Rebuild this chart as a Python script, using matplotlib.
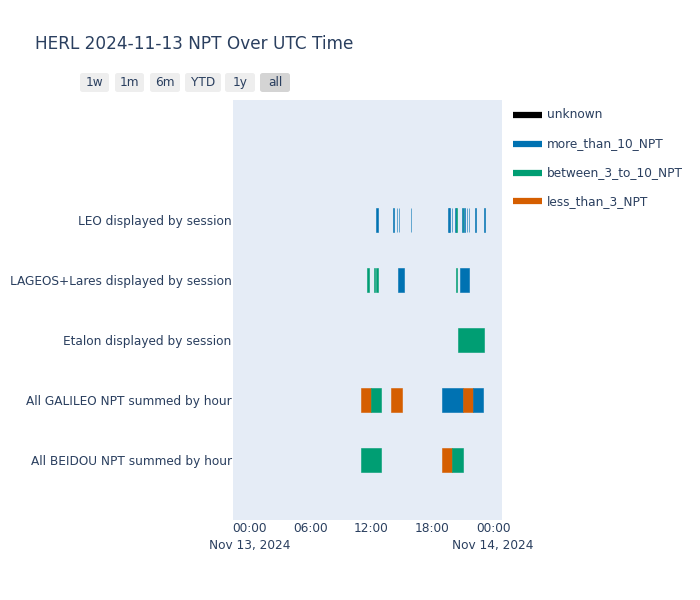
import matplotlib
matplotlib.use("Agg")
import matplotlib.pyplot as plt
import matplotlib.dates as mdates
from matplotlib.lines import Line2D
from matplotlib.patches import FancyBboxPatch
import pandas as pd

# ---------------- data ----------------
categories = [
    "All BEIDOU NPT summed by hour",
    "All GALILEO NPT summed by hour",
    "Etalon displayed by session",
    "LAGEOS+Lares displayed by session",
    "LEO displayed by session",
]
statuses = ["unknown", "more_than_10_NPT", "between_3_to_10_NPT", "less_than_3_NPT"]
status_colors = ["#000000", "#0072B2", "#009E73", "#D55E00"]

seg_row = (
    ["LEO displayed by session"] * 17
    + ["LAGEOS+Lares displayed by session"] * 6
    + ["Etalon displayed by session"] * 1
    + ["All GALILEO NPT summed by hour"] * 6
    + ["All BEIDOU NPT summed by hour"] * 3
)
seg_start = [
    # LEO
    "2024-11-13 12:29", "2024-11-13 14:09", "2024-11-13 14:32", "2024-11-13 14:44",
    "2024-11-13 15:55", "2024-11-13 19:33", "2024-11-13 19:41", "2024-11-13 19:57",
    "2024-11-13 20:15", "2024-11-13 20:23", "2024-11-13 20:57", "2024-11-13 21:02",
    "2024-11-13 21:06", "2024-11-13 21:25", "2024-11-13 21:37", "2024-11-13 22:13",
    "2024-11-13 23:06",
    # LAGEOS
    "2024-11-13 11:36", "2024-11-13 12:17", "2024-11-13 12:29", "2024-11-13 14:39",
    "2024-11-13 20:21", "2024-11-13 20:45",
    # Etalon
    "2024-11-13 20:33",
    # GALILEO
    "2024-11-13 11:00", "2024-11-13 12:00", "2024-11-13 14:00", "2024-11-13 19:00",
    "2024-11-13 21:00", "2024-11-13 22:00",
    # BEIDOU
    "2024-11-13 11:00", "2024-11-13 19:00", "2024-11-13 20:00",
]
seg_end = [
    # LEO
    "2024-11-13 12:40", "2024-11-13 14:13", "2024-11-13 14:35", "2024-11-13 14:47",
    "2024-11-13 15:58", "2024-11-13 19:38", "2024-11-13 19:44", "2024-11-13 20:00",
    "2024-11-13 20:19", "2024-11-13 20:27", "2024-11-13 21:01", "2024-11-13 21:05",
    "2024-11-13 21:13", "2024-11-13 21:29", "2024-11-13 21:40", "2024-11-13 22:20",
    "2024-11-13 23:12",
    # LAGEOS
    "2024-11-13 11:47", "2024-11-13 12:23", "2024-11-13 12:41", "2024-11-13 15:14",
    "2024-11-13 20:27", "2024-11-13 21:38",
    # Etalon
    "2024-11-13 23:06",
    # GALILEO
    "2024-11-13 12:00", "2024-11-13 13:00", "2024-11-13 15:00", "2024-11-13 21:00",
    "2024-11-13 22:00", "2024-11-13 23:00",
    # BEIDOU
    "2024-11-13 13:00", "2024-11-13 20:00", "2024-11-13 21:00",
]
seg_status = [
    # LEO
    "more_than_10_NPT", "more_than_10_NPT", "more_than_10_NPT", "more_than_10_NPT",
    "more_than_10_NPT", "more_than_10_NPT", "more_than_10_NPT", "more_than_10_NPT",
    "more_than_10_NPT", "between_3_to_10_NPT", "more_than_10_NPT", "between_3_to_10_NPT",
    "more_than_10_NPT", "more_than_10_NPT", "more_than_10_NPT", "more_than_10_NPT",
    "more_than_10_NPT",
    # LAGEOS
    "between_3_to_10_NPT", "between_3_to_10_NPT", "between_3_to_10_NPT", "more_than_10_NPT",
    "between_3_to_10_NPT", "more_than_10_NPT",
    # Etalon
    "between_3_to_10_NPT",
    # GALILEO
    "less_than_3_NPT", "between_3_to_10_NPT", "less_than_3_NPT", "more_than_10_NPT",
    "less_than_3_NPT", "more_than_10_NPT",
    # BEIDOU
    "between_3_to_10_NPT", "less_than_3_NPT", "between_3_to_10_NPT",
]

x_range = ["2024-11-12 22:24", "2024-11-14 00:53"]
x_ticks = ["2024-11-13 00:00", "2024-11-13 06:00", "2024-11-13 12:00",
           "2024-11-13 18:00", "2024-11-14 00:00"]
x_ticklabels = ["00:00\nNov 13, 2024", "06:00", "12:00", "18:00", "00:00\nNov 14, 2024"]
buttons = ["1w", "1m", "6m", "YTD", "1y", "all"]

# ---------------- plot ----------------
TXT = "#2a3f5f"
FS = 8.7
plt.rcParams["font.family"] = ["DejaVu Sans"]
fig = plt.figure(figsize=(7, 6), dpi=100)
fig.patch.set_facecolor("white")
ax = fig.add_axes([233 / 700, 1 - 520 / 600, (502 - 233) / 700, 420 / 600])
ax.set_facecolor("#E5ECF6")

cmap = dict(zip(statuses, status_colors))
ypos = {c: i for i, c in enumerate(categories)}
starts = mdates.date2num(pd.to_datetime(seg_start))
ends = mdates.date2num(pd.to_datetime(seg_end))
for r, s, e, st in zip(seg_row, starts, ends, seg_status):
    ax.barh(ypos[r], e - s, left=s, height=0.4, color=cmap[st],
            edgecolor=cmap[st], linewidth=0.4)

ax.set_ylim(-1, 6)
ax.set_yticks(range(len(categories)))
ax.set_yticklabels(categories)
xr = mdates.date2num(pd.to_datetime(x_range))
ax.set_xlim(xr[0], xr[1])
ax.set_xticks(mdates.date2num(pd.to_datetime(x_ticks)))
ax.set_xticklabels(x_ticklabels, linespacing=1.35)
for sp in ax.spines.values():
    sp.set_visible(False)
ax.tick_params(axis="both", length=0, labelsize=FS, colors=TXT)
ax.tick_params(axis="y", pad=1)
ax.tick_params(axis="x", pad=1.5)

fig.text(35 / 700, 1 - 44 / 600, "HERL 2024-11-13 NPT Over UTC Time",
         fontsize=12.2, color=TXT, va="center", ha="left")

# range selector buttons
bx = [(80, 109), (115, 144), (150, 180), (185, 221), (225, 255), (260, 290)]
for (x0, x1), lab in zip(bx, buttons):
    bg = "#d4d4d4" if lab == "all" else "#eeeeee"
    fig.patches.append(FancyBboxPatch((x0 / 700, 1 - 92 / 600), (x1 - x0) / 700, 19 / 600,
                                      boxstyle="round,pad=0,rounding_size=0.004",
                                      transform=fig.transFigure, facecolor=bg,
                                      edgecolor="none"))
    fig.text((x0 + x1) / 2 / 700, 1 - 82.5 / 600, lab, fontsize=FS, color=TXT,
             ha="center", va="center")

# legend
for i, (st, c) in enumerate(zip(statuses, status_colors)):
    y = 1 - (115 + i * 28.8) / 600
    fig.lines.append(Line2D([513 / 700, 542 / 700], [y, y], transform=fig.transFigure,
                            color=c, linewidth=4.5, solid_capstyle="butt"))
    fig.text(547 / 700, y, st, fontsize=FS, color=TXT, va="center", ha="left")

fig.savefig("out.png", dpi=100, facecolor="white")
